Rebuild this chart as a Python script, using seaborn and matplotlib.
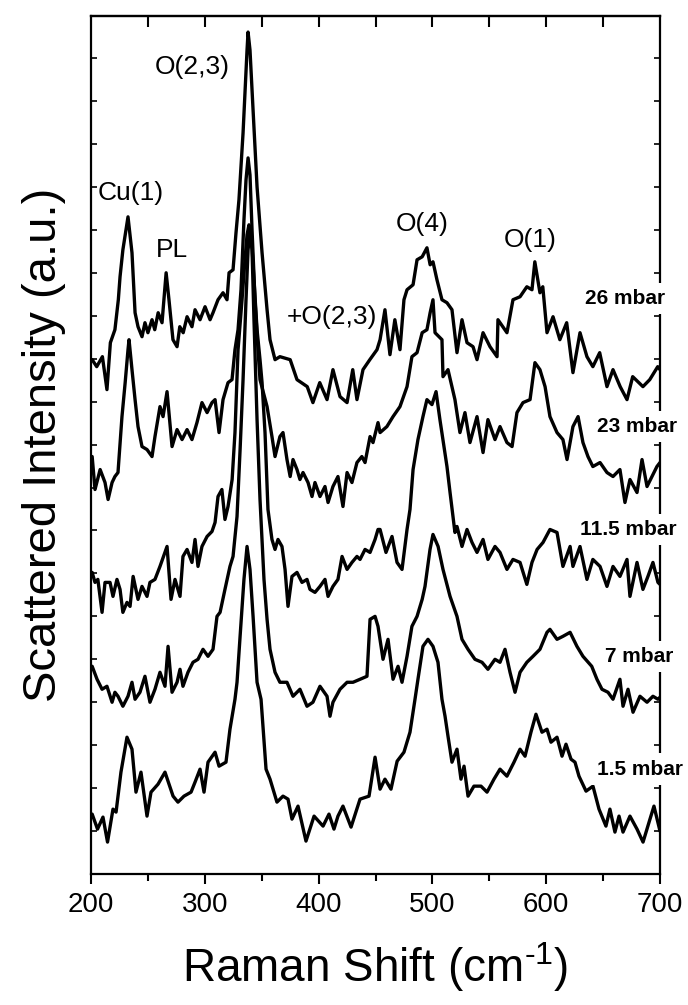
import numpy as np
import pandas as pd
import matplotlib
matplotlib.use("Agg")
import matplotlib.pyplot as plt
from matplotlib.ticker import MultipleLocator, NullFormatter
import seaborn as sns

OUTPUT_PATH = "out.png"

# Raman spectra (shift in cm-1, intensity in a.u., already offset)
SHIFT_26 = [201, 205, 210, 214, 217, 221, 224, 225.5, 228, 232.5,
            236, 238.7, 241.3, 244.8, 247.4, 250, 253.6, 256, 259, 262.4,
            266, 268.5, 272, 275.6, 278, 281, 284.4, 288.7, 291.4, 295.8,
            300.2, 304.6, 307.2, 311.6, 316, 319.5, 321.3, 324.8, 327.4, 330,
            333.6, 337.1, 338, 339.7, 342.4, 345.9, 350.3, 354.7, 357.3, 361.7,
            366, 375, 381, 390, 395, 401, 407.4, 412.6, 418.8, 425,
            430, 433.7, 439, 445, 451.3, 454, 458.3, 462.7, 467, 471.5,
            475, 477.7, 483, 486.5, 491, 495.2, 498, 500.5, 504, 508.4,
            512.8, 517.2, 521.6, 526, 530.4, 535.7, 539.2, 544.5, 550.6, 556.8,
            557.6, 565.5, 570.8, 577, 583, 587.5, 590, 594.5, 597, 600.7,
            606, 612, 618, 623.5, 629.7, 635.8, 641, 647, 653.4, 658.7,
            665, 671, 676, 685, 691, 698, 700]
INT_26 = [515, 508, 518, 485, 532, 545, 575, 598, 625, 658,
          622, 562, 548, 538, 552, 542, 555, 545, 562, 552,
          602, 575, 535, 528, 548, 542, 558, 548, 565, 555,
          568, 555, 562, 575, 582, 575, 602, 605, 642, 675,
          742, 825, 843, 825, 765, 688, 622, 565, 535, 515,
          518, 515, 495, 488, 472, 492, 475, 505, 478, 472,
          505, 475, 505, 515, 525, 535, 565, 520, 555, 525,
          575, 585, 590, 615, 618, 627, 610, 613, 595, 575,
          572, 565, 522, 555, 532, 528, 515, 542, 528, 518,
          555, 542, 575, 578, 588, 585, 613, 582, 588, 542,
          558, 535, 552, 502, 542, 518, 508, 522, 488, 505,
          488, 475, 498, 488, 495, 508, 505]

SHIFT_23 = [201, 203.5, 208, 212.3, 215, 218.5, 221, 223.7, 227.2, 230,
            232.5, 233.4, 236, 238.7, 241.3, 244.8, 249.2, 253.6, 256.2, 260.6,
            263.3, 266.8, 271.2, 275.6, 280, 284.4, 288.7, 293.1, 297.5, 302,
            306.3, 309, 312.5, 316, 320.4, 323.9, 326.5, 329.2, 331.8, 334.4,
            336.2, 338, 339.7, 341.5, 344.1, 346.7, 348.5, 354.7, 359, 361.7,
            366, 368.7, 372.2, 375, 377.5, 381, 383.6, 386.3, 390.7, 394.2,
            396.8, 401.2, 405.6, 408.3, 412.6, 417, 421.4, 425, 429.3, 433.7,
            438, 440.8, 445.2, 447.8, 452.2, 454, 460, 465.4, 471.5, 477.7,
            482, 486.5, 491, 495.2, 498, 500.5, 502.3, 508.4, 509.3, 513.7,
            517.2, 519.8, 524.2, 528.6, 533, 539.2, 544.5, 548.8, 555, 559.4,
            565.5, 570, 574.3, 579.6, 585.8, 590.1, 594.5, 599, 603.3, 609.5,
            614.7, 618.3, 623.5, 628, 632.3, 636.7, 641, 647.3, 653.4, 658.7,
            664.8, 669.2, 673.6, 679.8, 684.2, 688.6, 693, 697.3, 700]
INT_23 = [418, 385, 405, 392, 375, 392, 398, 402, 458, 492,
          525, 535, 505, 475, 448, 428, 425, 418, 438, 468,
          458, 483, 428, 445, 435, 445, 435, 452, 472, 462,
          472, 475, 442, 475, 492, 495, 525, 545, 585, 655,
          695, 717, 700, 645, 575, 525, 495, 468, 438, 418,
          438, 442, 415, 398, 415, 405, 395, 402, 392, 378,
          392, 378, 388, 372, 388, 398, 368, 402, 392, 412,
          418, 412, 438, 432, 452, 442, 448, 458, 468, 488,
          518, 522, 542, 545, 562, 575, 542, 535, 498, 505,
          488, 475, 442, 462, 432, 458, 422, 455, 435, 448,
          432, 428, 462, 472, 475, 512, 505, 488, 458, 442,
          435, 415, 448, 458, 432, 418, 408, 412, 402, 398,
          405, 372, 395, 382, 415, 388, 398, 408, 412]

SHIFT_115 = [201, 203.5, 206, 209.7, 212.3, 216.7, 219.3, 222.8, 225.5, 228,
             231.6, 234.3, 237, 241.3, 244.8, 249.2, 251.8, 256.2, 260.6, 266.8,
             270.3, 273.8, 278.2, 280.8, 284.4, 288.7, 291.4, 294, 297.5, 302,
             306.3, 309, 311.6, 315, 317.7, 320.4, 324, 326.5, 329.2, 332.7,
             335.3, 337.1, 338.8, 340.6, 343.2, 345.9, 348.5, 350.3, 352.9, 355.5,
             359, 361.7, 364.3, 367.8, 370.5, 373.1, 376.6, 381, 385.4, 389.8,
             392.4, 396.8, 401.2, 405.6, 408.3, 412.6, 417, 420.6, 425, 429.3,
             433.7, 436.4, 440.8, 445.2, 449.6, 452.2, 454, 459.2, 464.5, 468.9,
             473.3, 477.7, 480.3, 483, 487.3, 491.7, 495.2, 499.6, 503.2, 506.6,
             512.8, 515.5, 519.8, 521.6, 526, 530.4, 534.8, 539.2, 544.5, 548.8,
             555, 559.4, 565.5, 570.8, 577, 583, 587.5, 592, 597.2, 603.3,
             609.5, 614.7, 621, 623.5, 629.7, 635.8, 641, 647.3, 653.4, 658.7,
             664.8, 671, 673.6, 679.8, 685, 689.4, 693.8, 698.2, 700]
INT_115 = [302, 292, 295, 262, 292, 292, 278, 295, 285, 262,
           272, 268, 298, 275, 288, 278, 292, 295, 308, 328,
           275, 295, 278, 318, 325, 312, 335, 308, 328, 338,
           343, 352, 378, 385, 355, 368, 395, 442, 525, 575,
           615, 640, 650, 645, 595, 545, 515, 492, 442, 365,
           335, 325, 335, 328, 305, 268, 298, 302, 292, 295,
           285, 282, 288, 295, 278, 288, 295, 318, 305, 312,
           318, 315, 325, 322, 335, 345, 345, 322, 338, 312,
           305, 345, 365, 405, 435, 458, 475, 470, 483, 455,
           408, 382, 342, 348, 328, 345, 332, 322, 335, 315,
           328, 322, 305, 315, 312, 290, 312, 325, 332, 345,
           342, 308, 328, 308, 328, 295, 315, 308, 288, 308,
           298, 315, 278, 312, 285, 298, 312, 292, 290]

SHIFT_7 = [201, 205.3, 209.7, 214, 218.5, 221, 223.7, 228, 232.5, 236,
           238.7, 243, 247.4, 251.8, 256.2, 260.6, 265, 267.7, 271.2, 275.6,
           278.2, 280.8, 285.2, 289.6, 294, 298.4, 302.8, 307.2, 310.7, 313.4,
           317.7, 322.1, 324.8, 328.3, 331, 333.6, 336.2, 338, 339.7, 341.5,
           343.2, 345.9, 348.5, 352, 354.7, 357.3, 361.7, 366, 372.2, 377.5,
           383.6, 389.8, 395, 401.2, 407.4, 410, 412.6, 418.8, 425, 430.2,
           436.4, 442.5, 445.2, 449.6, 452.2, 456.6, 461, 465.4, 469.8, 473.3,
           477.7, 482, 486.5, 491, 493.5, 497.9, 500.5, 505, 509.3, 515.5,
           521.6, 526, 531.3, 537.4, 543.6, 548.8, 555, 559.4, 563.8, 568.2,
           572.6, 577, 583, 588.4, 594.5, 600.7, 603.3, 609.5, 614.7, 621,
           627, 632.3, 640, 644.6, 649, 654.3, 658.7, 664.8, 667.5, 671.9,
           676.3, 682.4, 688.6, 693.8, 698.2, 700]
INT_7 = [208, 195, 185, 188, 172, 182, 178, 168, 178, 192,
         175, 182, 198, 172, 185, 202, 188, 228, 182, 192,
         205, 188, 202, 212, 215, 225, 218, 225, 258, 262,
         285, 308, 318, 358, 425, 495, 575, 625, 643, 625,
         555, 455, 375, 295, 255, 225, 202, 192, 192, 178,
         185, 168, 172, 188, 178, 158, 172, 185, 192, 192,
         195, 198, 255, 258, 248, 215, 235, 195, 208, 192,
         218, 248, 258, 275, 288, 325, 340, 328, 305, 278,
         258, 235, 225, 215, 212, 205, 215, 212, 225, 202,
         182, 202, 212, 218, 225, 242, 245, 235, 238, 242,
         228, 218, 208, 195, 185, 182, 175, 195, 168, 185,
         162, 178, 172, 178, 175, 177]

SHIFT_15 = [201, 205.7, 210.5, 214.5, 219.3, 222, 226.3, 231.6, 236, 239.5,
            243.9, 249.2, 252.7, 258.9, 265, 272.1, 276.4, 281.7, 287.9, 291.4,
            295.8, 299.3, 302.8, 309, 312.5, 318.6, 322.1, 326.5, 328.3, 331,
            334.4, 337.1, 339.7, 342.4, 345.9, 349.4, 353.8, 357.3, 363.4, 368.7,
            373.1, 376.6, 381.9, 388.9, 396, 403.9, 409.1, 413.5, 417, 421.4,
            428.5, 436.4, 444.3, 449.6, 454, 458.3, 463.6, 469, 475, 480.3,
            484.7, 487.3, 491.7, 496.1, 500.5, 504.9, 508.4, 511.1, 513.7, 517.2,
            521.6, 525.1, 527.8, 531.3, 536.5, 542.7, 548, 554.1, 559.4, 565.5,
            571.7, 577, 581.4, 586.6, 591, 596.3, 600.7, 604.2, 609.5, 613.9,
            617.4, 621.8, 625.3, 628.8, 635, 641.1, 646.4, 652.5, 656, 660.4,
            664, 667.5, 673.6, 679.8, 685.1, 691.2, 694.7, 700]
INT_15 = [60, 45, 57, 32, 65, 62, 102, 137, 125, 82,
          102, 58, 82, 90, 102, 78, 72, 78, 82, 92,
          105, 82, 112, 122, 108, 112, 145, 175, 192, 238,
          295, 328, 305, 258, 192, 175, 105, 95, 72, 78,
          75, 55, 68, 33, 58, 48, 60, 45, 58, 68,
          47, 75, 78, 117, 85, 95, 85, 113, 122, 142,
          175, 195, 228, 235, 228, 212, 175, 158, 138, 112,
          125, 95, 108, 78, 88, 88, 82, 95, 105, 98,
          112, 125, 118, 142, 160, 142, 145, 132, 137, 118,
          130, 115, 112, 98, 83, 88, 65, 48, 65, 42,
          58, 42, 58, 45, 32, 55, 68, 43]

PRESSURES = ["26 mbar", "23 mbar", "11.5 mbar", "7 mbar", "1.5 mbar"]
SHIFTS = [SHIFT_26, SHIFT_23, SHIFT_115, SHIFT_7, SHIFT_15]
INTENSITIES = [INT_26, INT_23, INT_115, INT_7, INT_15]

# pressure label positions (shift, intensity)
PRESSURE_LABEL_X = [669, 680, 672, 682, 682]
PRESSURE_LABEL_Y = [576, 448, 345, 218, 105]

# mode assignments
PEAK_LABELS = ["O(2,3)", "Cu(1)", "PL", "+O(2,3)", "O(4)", "O(1)"]
PEAK_LABEL_X = [289, 235, 271, 412, 491, 586]
PEAK_LABEL_Y = [808, 682, 625, 558, 651, 635]

TICK_STEP = 43


def main():
    frames = []
    for name, xs, ys in zip(PRESSURES, SHIFTS, INTENSITIES):
        frames.append(pd.DataFrame({"shift": xs, "intensity": ys, "pressure": name}))
    df = pd.concat(frames, ignore_index=True)

    sns.set_style("ticks")
    plt.rcParams["font.family"] = ["Liberation Sans", "DejaVu Sans"]
    plt.rcParams["mathtext.fontset"] = "custom"
    plt.rcParams["mathtext.rm"] = "Liberation Sans"
    plt.rcParams["mathtext.default"] = "regular"
    plt.rcParams["text.color"] = "black"
    plt.rcParams["axes.labelcolor"] = "black"
    plt.rcParams["xtick.color"] = "black"
    plt.rcParams["ytick.color"] = "black"

    fig = plt.figure(figsize=(6.88, 10.05), dpi=100)
    ax = fig.add_axes([0.1323, 0.1303, 0.827, 0.8537])

    sns.lineplot(data=df, x="shift", y="intensity", units="pressure",
                 estimator=None, sort=False, color="black", linewidth=2.4, ax=ax)

    ax.set_xlim(200, 700)
    ax.set_ylim(0, 859)
    ax.set_xticks(np.arange(200, 701, 100))
    ax.xaxis.set_minor_locator(MultipleLocator(50))
    ax.set_yticks(np.arange(TICK_STEP, 859, TICK_STEP))

    ax.tick_params(axis="x", which="major", direction="out", length=7, width=1.5,
                   labelsize=20, pad=6)
    ax.tick_params(axis="x", which="minor", direction="out", length=5, width=1.5)
    ax.tick_params(axis="y", which="both", direction="in", left=True, right=True,
                   length=4, width=1.2, labelleft=False)

    top = ax.secondary_xaxis("top")
    top.set_xticks(np.arange(250, 700, 50))
    top.xaxis.set_major_formatter(NullFormatter())
    top.tick_params(direction="in", length=8, width=1.5)

    for side in ["left", "right", "bottom", "top"]:
        ax.spines[side].set_linewidth(1.6)
        ax.spines[side].set_color("black")
    top.spines["top"].set_linewidth(1.6)

    ax.set_xlabel(r"Raman Shift (cm$^{\text{-1}}$)", fontsize=33, labelpad=16)
    ax.set_ylabel("Scattered Intensity (a.u.)", fontsize=34, labelpad=18)

    for text, x, y in zip(PEAK_LABELS, PEAK_LABEL_X, PEAK_LABEL_Y):
        ax.text(x, y, text, fontsize=19, ha="center", va="center")

    for text, x, y in zip(PRESSURES, PRESSURE_LABEL_X, PRESSURE_LABEL_Y):
        ax.text(x, y, text, fontsize=15, fontweight="bold", ha="center", va="center",
                clip_on=False, zorder=5,
                bbox=dict(boxstyle="square,pad=0.3", facecolor="white", edgecolor="none"))

    fig.savefig(OUTPUT_PATH, dpi=100)
    plt.close(fig)


if __name__ == "__main__":
    main()
